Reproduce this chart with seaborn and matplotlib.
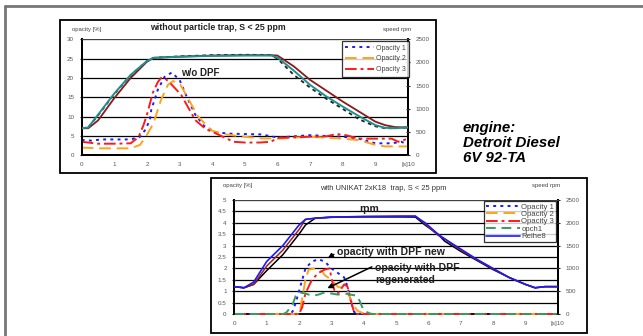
"""
Opacity / engine speed comparison, with and without particle trap.
"""

import numpy as np
import matplotlib
matplotlib.use("Agg")
import matplotlib.pyplot as plt
import matplotlib.patches as mpatches
import matplotlib.lines as mlines
import seaborn as sns

sns.set_theme(style="white")
plt.rcParams["font.family"] = ["Liberation Sans", "DejaVu Sans"]

# ---- top chart: without particle trap ----
top_t_op1 = [0, 0.3, 0.6, 1.0, 1.5, 1.79, 1.94, 2.09, 2.13, 2.33, 2.54, 2.76, 3.0, 3.2, 3.48, 3.75, 4.1, 4.5, 5.0, 5.5, 6.0, 6.5, 7.0, 7.5, 8.0, 8.5, 9.0, 9.5, 9.8, 10.0]
top_op1 = [4.0, 3.8, 4.1, 4.1, 4.1, 4.8, 6.5, 9.1, 11.7, 16.9, 20.3, 21.4, 19.5, 15.5, 10.5, 7.6, 6.0, 5.6, 5.5, 5.4, 4.6, 4.9, 5.2, 5.0, 4.8, 4.3, 3.1, 3.1, 3.5, 2.7]
top_t_op2 = [0, 0.5, 1.0, 1.5, 1.79, 2.0, 2.2, 2.43, 2.64, 2.8, 3.0, 3.26, 3.57, 3.98, 4.3, 4.5, 5.0, 5.5, 6.0, 7.0, 8.0, 8.5, 9.0, 9.3, 10.0]
top_op2 = [2.0, 1.8, 1.8, 1.8, 2.7, 5.3, 8.3, 14.3, 18.2, 19.2, 18.6, 14.7, 10.0, 6.4, 5.6, 5.3, 4.8, 4.4, 4.3, 4.8, 4.3, 3.9, 2.7, 2.3, 2.3]
top_t_op3 = [0, 0.5, 1.0, 1.5, 1.74, 1.89, 2.0, 2.18, 2.33, 2.43, 2.55, 2.7, 3.05, 3.48, 3.8, 4.1, 4.43, 4.65, 5.0, 5.46, 5.8, 6.0, 7.0, 7.5, 7.8, 8.1, 8.5, 9.0, 9.5, 9.7, 10.0]
top_op3 = [3.5, 3.0, 3.0, 3.1, 4.7, 7.7, 10.5, 16.2, 18.9, 20.0, 19.9, 18.8, 15.6, 9.1, 6.8, 5.7, 4.4, 3.5, 3.3, 3.3, 3.5, 4.5, 4.8, 4.9, 5.5, 5.2, 4.3, 4.3, 4.3, 3.5, 4.3]

top_t_rpm = [0, 0.2, 0.5, 1.0, 1.5, 2.0, 2.2, 3.0, 4.0, 5.0, 5.8, 6.0, 6.5, 7.0, 7.5, 8.0, 8.5, 9.0, 9.3, 9.6, 10.0]
top_rpm_teal = [583, 600, 875, 1333, 1733, 2033, 2100, 2125, 2142, 2150, 2150, 2108, 1825, 1517, 1267, 1050, 842, 650, 592, 583, 600]
top_rpm_maroon = [583, 583, 750, 1233, 1667, 2017, 2100, 2125, 2150, 2158, 2158, 2150, 1917, 1625, 1392, 1158, 942, 725, 650, 608, 600]
top_rpm_black = [583, 600, 860, 1320, 1725, 2030, 2100, 2133, 2158, 2167, 2160, 2083, 1733, 1458, 1217, 1000, 775, 625, 583, 583, 600]

# ---- bottom chart: with UNIKAT 2xK18 trap ----
bot_t_op1 = [0, 1.7, 1.8, 1.9, 2.0, 2.1, 2.2, 2.4, 2.6, 2.8, 3.0, 3.2, 3.4, 3.5, 3.6, 3.7, 3.8, 10.0]
bot_op1 = [0, 0, 0.1, 0.5, 1.0, 1.5, 2.0, 2.3, 2.4, 2.3, 2.0, 1.8, 1.6, 1.2, 0.6, 0.1, 0, 0]
bot_t_op2 = [0, 2.0, 2.05, 2.2, 2.3, 2.5, 2.7, 2.8, 3.0, 3.2, 3.4, 3.5, 3.6, 3.8, 4.0, 4.1, 10.0]
bot_op2 = [0, 0, 0.3, 1.5, 1.95, 2.0, 1.9, 1.7, 1.5, 1.2, 1.1, 1.0, 0.6, 0.15, 0.02, 0, 0]
bot_t_op3 = [0, 2.0, 2.1, 2.2, 2.4, 2.6, 2.8, 2.95, 3.0, 3.1, 3.2, 3.3, 3.4, 3.5, 3.6, 3.7, 3.8, 10.0]
bot_op3 = [0, 0, 0.3, 0.9, 1.5, 1.8, 1.95, 2.0, 1.6, 1.0, 0.9, 1.1, 1.3, 1.2, 0.6, 0.1, 0, 0]
bot_t_opch1 = [0, 1.5, 1.6, 1.8, 1.9, 2.0, 2.2, 2.4, 2.6, 2.8, 3.0, 3.2, 3.4, 3.6, 3.8, 3.9, 4.0, 4.2, 4.3, 10.0]
bot_opch1 = [0, 0, 0.05, 0.4, 0.8, 0.95, 0.9, 0.8, 0.85, 0.95, 0.9, 0.85, 0.9, 0.85, 0.8, 0.5, 0.15, 0.02, 0, 0]

bot_t_rpm = [0, 0.3, 0.6, 1.0, 1.5, 2.0, 2.2, 2.5, 3.0, 4.0, 5.0, 5.6, 5.9, 6.3, 6.5, 7.0, 7.5, 8.0, 8.5, 9.0, 9.3, 9.6, 10.0]
bot_rpm_reihe8 = [600, 575, 700, 1150, 1500, 1950, 2075, 2100, 2125, 2135, 2135, 2140, 2000, 1750, 1650, 1425, 1200, 1000, 800, 650, 575, 600, 600]
bot_rpm_black = [600, 575, 650, 950, 1300, 1750, 1950, 2100, 2120, 2130, 2130, 2125, 1950, 1750, 1600, 1375, 1175, 975, 800, 650, 575, 600, 600]
bot_rpm_maroon = [600, 575, 650, 1050, 1400, 1850, 2075, 2100, 2125, 2140, 2150, 2150, 1975, 1725, 1650, 1400, 1190, 990, 800, 650, 575, 600, 600]

top_xticklabels = ["0", "1", "2", "3", "4", "5", "6", "7", "8", "9", "[s]10"]

W, H = 643, 336
fig = plt.figure(figsize=(W / 100, H / 100), dpi=100)
fig.patch.set_facecolor("white")


def px_rect(x0, y0, x1, y1):
    return [x0 / W, 1 - y1 / H, (x1 - x0) / W, (y1 - y0) / H]


# outer frame (top and left only)
fig.add_artist(mlines.Line2D([5 / W, 1], [1 - 6 / H, 1 - 6 / H], transform=fig.transFigure, color="#777777", lw=2))
fig.add_artist(mlines.Line2D([5 / W, 5 / W], [1 - 6 / H, 0], transform=fig.transFigure, color="#777777", lw=2))

# chart boxes
for x0, y0, x1, y1 in [(60, 20, 436, 173), (211, 178, 587, 333)]:
    fig.add_artist(mpatches.Rectangle((x0 / W, 1 - y1 / H), (x1 - x0) / W, (y1 - y0) / H,
                                      transform=fig.transFigure, fill=False, ec="black", lw=1.3))

tick_col = "#555555"


def style_axes(ax, ax2, ymax, ystep, rmax):
    ax.set_xlim(0, 10)
    ax.set_ylim(0, ymax)
    ax2.set_ylim(0, rmax)
    ax.set_yticks(np.arange(0, ymax + ystep / 2, ystep))
    ax2.set_yticks(np.arange(0, rmax + 1, 500))
    ax.set_xticks(range(11))
    ax.yaxis.grid(True, color="black", lw=0.9)
    ax.set_axisbelow(True)
    for a in (ax, ax2):
        a.set_facecolor("none")
        for side in ("left", "right", "bottom"):
            a.spines[side].set_color("black")
            a.spines[side].set_linewidth(1.3)
            a.spines[side].set_zorder(0.5)
        a.spines["top"].set_color("#444444")
        a.spines["top"].set_linewidth(0.6)
        a.tick_params(labelsize=4.5, labelcolor=tick_col, length=3, width=0.8, direction="inout", pad=4)
        a.set_xlabel("")
        a.set_ylabel("")
    ax.tick_params(axis="x", length=2)


# ---------------- top chart ----------------
ax = fig.add_axes(px_rect(81.7, 39.3, 408, 155.3))
ax2 = ax.twinx()

sns.lineplot(x=top_t_rpm, y=top_rpm_maroon, ax=ax2, color="#8b1a1a", lw=1.3)
sns.lineplot(x=top_t_rpm, y=top_rpm_black, ax=ax2, color="#222222", lw=1.3, dashes=False, linestyle=(0, (2, 2)))
sns.lineplot(x=top_t_rpm, y=top_rpm_teal, ax=ax2, color="#1f8f8f", lw=1.4)

sns.lineplot(x=top_t_op1, y=top_op1, ax=ax, color="#1a1aff", lw=1.4, linestyle=(0, (1.5, 2.2)), label="Opacity 1")
sns.lineplot(x=top_t_op2, y=top_op2, ax=ax, color="#ffa31a", lw=1.4, linestyle=(0, (6, 3)), label="Opacity 2")
sns.lineplot(x=top_t_op3, y=top_op3, ax=ax, color="#ff1a1a", lw=1.4, linestyle=(0, (6, 2, 1.5, 2)), label="Opacity 3")

style_axes(ax, ax2, 30, 5, 2500)
ax.set_xticklabels(top_xticklabels)
ax.text(3.04, 21.2, "w/o DPF", fontsize=7, fontweight="bold", ha="left", va="center", color="#222222")

handles, labels = ax.get_legend_handles_labels()
ax.get_legend().remove()
leg = ax2.legend(handles, labels, loc="upper right", bbox_to_anchor=(1.003, 0.985), fontsize=5,
                 frameon=True, fancybox=False, shadow=False, handlelength=4.2, labelspacing=0.55,
                 borderpad=0.5, handletextpad=0.2, borderaxespad=0)
leg.get_frame().set_edgecolor("black")
leg.get_frame().set_linewidth(0.9)
for txt in leg.get_texts():
    txt.set_color("#444444")

fig.text(72 / W, 1 - 29 / H, "opacity [%]", fontsize=4.3, color="#444444", va="center")
fig.text(383 / W, 1 - 29 / H, "speed rpm", fontsize=4.3, color="#444444", va="center")
fig.text(218 / W, 1 - 28 / H, "without particle trap, S < 25 ppm", fontsize=6.3, fontweight="bold",
         color="#222222", ha="center", va="center")

# ---------------- bottom chart ----------------
bx = fig.add_axes(px_rect(234.3, 200, 557.7, 314))
bx2 = bx.twinx()

sns.lineplot(x=bot_t_op1, y=bot_op1, ax=bx, color="#1a1aff", lw=1.4, linestyle=(0, (1.5, 2.2)), label="Opacity 1", clip_on=False)
sns.lineplot(x=bot_t_op2, y=bot_op2, ax=bx, color="#ffa31a", lw=1.4, linestyle=(0, (6, 3)), label="Opacity 2", clip_on=False)
sns.lineplot(x=bot_t_op3, y=bot_op3, ax=bx, color="#ff1a1a", lw=1.4, linestyle=(0, (6, 2, 1.5, 2)), label="Opacity 3", clip_on=False)
sns.lineplot(x=bot_t_opch1, y=bot_opch1, ax=bx, color="#3a9a5e", lw=1.4, linestyle=(0, (5, 3)), label="opch1", clip_on=False)

sns.lineplot(x=bot_t_rpm, y=bot_rpm_black, ax=bx2, color="black", lw=1.1)
sns.lineplot(x=bot_t_rpm, y=bot_rpm_maroon, ax=bx2, color="#a02020", lw=1.1)
sns.lineplot(x=bot_t_rpm, y=bot_rpm_reihe8, ax=bx2, color="#1a1aff", lw=1.2, label="Reihe8")

style_axes(bx, bx2, 5, 0.5, 2500)
bx2.spines["bottom"].set_visible(False)
bx.set_yticklabels(["0", "0.5", "1", "1.5", "2", "2.5", "3", "3.5", "4", "4.5", "5"])
bx.set_xticklabels(top_xticklabels)

h1, l1 = bx.get_legend_handles_labels()
h2, l2 = bx2.get_legend_handles_labels()
bx.get_legend().remove()
leg2 = bx2.legend(h1 + h2, l1 + l2, loc="upper right", bbox_to_anchor=(0.995, 0.99), fontsize=5.6,
                  frameon=True, fancybox=False, handlelength=4.3, labelspacing=0.0,
                  borderpad=0.25, handletextpad=0.2, borderaxespad=0)
leg2.get_frame().set_edgecolor("black")
leg2.get_frame().set_linewidth(0.9)
for txt in leg2.get_texts():
    txt.set_color("#444444")

bx.text(4.17, 4.62, "rpm", fontsize=7.5, fontweight="bold", ha="center", va="center", color="#222222")
bx.text(3.17, 2.72, "opacity with DPF new", fontsize=7.6, fontweight="bold", ha="left", va="center", color="#222222")
bx.text(4.35, 2.03, "opacity with DPF", fontsize=7.6, fontweight="bold", ha="left", va="center", color="#222222")
bx.text(4.35, 1.49, "regenerated", fontsize=7.6, fontweight="bold", ha="left", va="center", color="#222222")
bx.annotate("", xy=(2.82, 2.38), xytext=(3.15, 2.68),
            arrowprops=dict(arrowstyle="-|>", color="black", lw=1.1, mutation_scale=7))
bx.annotate("", xy=(2.8, 1.08), xytext=(4.33, 2.12),
            arrowprops=dict(arrowstyle="-|>", color="black", lw=1.1, mutation_scale=7))

fig.text(223 / W, 1 - 186 / H, "opacity [%]", fontsize=4.3, color="#444444", va="center")
fig.text(532 / W, 1 - 186 / H, "speed rpm", fontsize=4.3, color="#444444", va="center")
fig.text(383 / W, 1 - 188 / H, "with UNIKAT 2xK18  trap, S < 25 ppm", fontsize=5.4,
         color="#333333", ha="center", va="center")

# ---------------- engine text ----------------
for i, line in enumerate(["engine:", "Detroit Diesel", "6V 92-TA"]):
    fig.text(463 / W, 1 - (128 + 15 * i) / H, line, fontsize=10.8, fontweight="bold", fontstyle="italic",
             color="black", ha="left", va="center")

fig.savefig("out.png", dpi=100)
